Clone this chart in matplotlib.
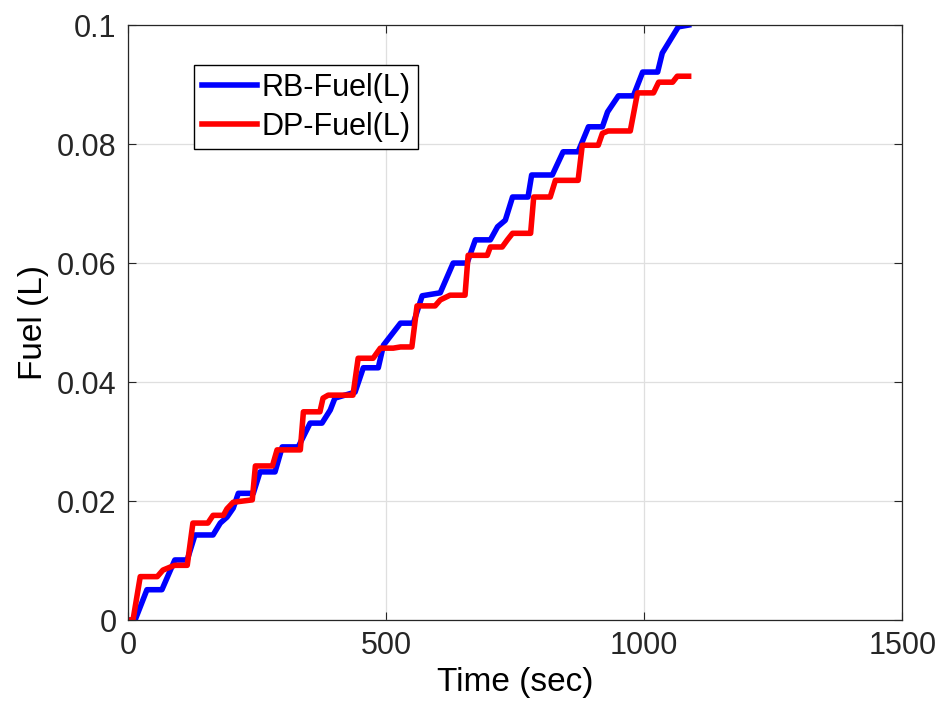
import numpy as np
import matplotlib
matplotlib.use("Agg")
import matplotlib.pyplot as plt
from matplotlib.ticker import FormatStrFormatter

plt.rcParams['font.family'] = ['Liberation Sans', 'DejaVu Sans']

# RB fuel curve (time in sec, fuel in L)
rb_t = [0, 14, 37, 66, 91, 115, 130, 165, 179, 192, 204, 214, 243, 256, 285, 299, 330,
        353, 376, 392, 401, 436, 440, 456, 485, 495, 528, 553, 570, 605, 630, 657, 673,
        702, 716, 731, 745, 775, 782, 822, 843, 872, 892, 919, 929, 950, 979, 997, 1026,
        1035, 1066, 1086]
rb_f = [0, 0, 0.0051, 0.0051, 0.0101, 0.0101, 0.0143, 0.0143, 0.0163, 0.0173, 0.0188,
        0.0213, 0.0213, 0.0249, 0.0249, 0.0291, 0.0291, 0.0331, 0.0331, 0.0353, 0.0373,
        0.0382, 0.0383, 0.0424, 0.0424, 0.0462, 0.0499, 0.0499, 0.0545, 0.0550, 0.0600,
        0.0600, 0.0639, 0.0639, 0.0661, 0.0672, 0.0711, 0.0711, 0.0748, 0.0748, 0.0787,
        0.0787, 0.0829, 0.0829, 0.0854, 0.0881, 0.0881, 0.0921, 0.0921, 0.0953, 0.0997,
        0.1000]

# DP fuel curve
dp_t = [0, 10, 24, 57, 68, 82, 91, 115, 126, 155, 165, 185, 192, 204, 241, 247, 280,
        289, 334, 340, 372, 378, 388, 436, 446, 475, 489, 514, 528, 550, 560, 595, 605,
        624, 653, 659, 696, 702, 725, 735, 745, 780, 786, 818, 828, 872, 880, 911, 919,
        930, 973, 987, 1018, 1028, 1055, 1064, 1086]
dp_f = [0, 0, 0.0073, 0.0073, 0.0084, 0.0089, 0.0092, 0.0092, 0.0163, 0.0163, 0.0176,
        0.0176, 0.0187, 0.0198, 0.0202, 0.0259, 0.0259, 0.0286, 0.0286, 0.0350, 0.0350,
        0.0373, 0.0378, 0.0378, 0.0440, 0.0440, 0.0457, 0.0457, 0.0459, 0.0459, 0.0528,
        0.0528, 0.0538, 0.0546, 0.0546, 0.0613, 0.0613, 0.0627, 0.0627, 0.0639, 0.0650,
        0.0650, 0.0711, 0.0711, 0.0739, 0.0739, 0.0798, 0.0798, 0.0818, 0.0822, 0.0822,
        0.0886, 0.0886, 0.0904, 0.0904, 0.0914, 0.0914]

x_ticks = [0, 500, 1000, 1500]
y_ticks = [0, 0.02, 0.04, 0.06, 0.08, 0.1]

fig = plt.figure(figsize=(9.4, 7.16), dpi=100)
ax = fig.add_axes([0.136, 0.134, 0.824, 0.831])

ax.plot(rb_t, rb_f, color=(0, 0, 1), linewidth=4.0, solid_joinstyle='round',
        label='RB-Fuel(L)')
ax.plot(dp_t, dp_f, color=(1, 0, 0), linewidth=4.0, solid_joinstyle='round',
        label='DP-Fuel(L)')

ax.set_xlim(0, 1500)
ax.set_ylim(0, 0.1)
ax.set_xticks(x_ticks)
ax.set_yticks(y_ticks)
ax.yaxis.set_major_formatter(FormatStrFormatter('%g'))
ax.grid(True, color='#dfdfdf', linewidth=0.9)
ax.set_axisbelow(True)

ax.tick_params(direction='in', length=6, width=0.8, top=True, right=True,
               labelsize=22, labelcolor='#262626', colors='#262626', pad=8)
for s in ax.spines.values():
    s.set_color('#262626')
    s.set_linewidth(0.9)

ax.set_xlabel('Time (sec)', fontsize=24, labelpad=4)
ax.set_ylabel('Fuel (L)', fontsize=24, labelpad=6)

leg = ax.legend(loc='upper left', bbox_to_anchor=(0.0855, 0.933), borderaxespad=0,
                fontsize=22, fancybox=False, framealpha=1, edgecolor='black',
                handlelength=1.8, handletextpad=0.15, labelspacing=0.3,
                borderpad=0.25)
leg.get_frame().set_linewidth(1.0)

fig.savefig('out.png', dpi=100)
